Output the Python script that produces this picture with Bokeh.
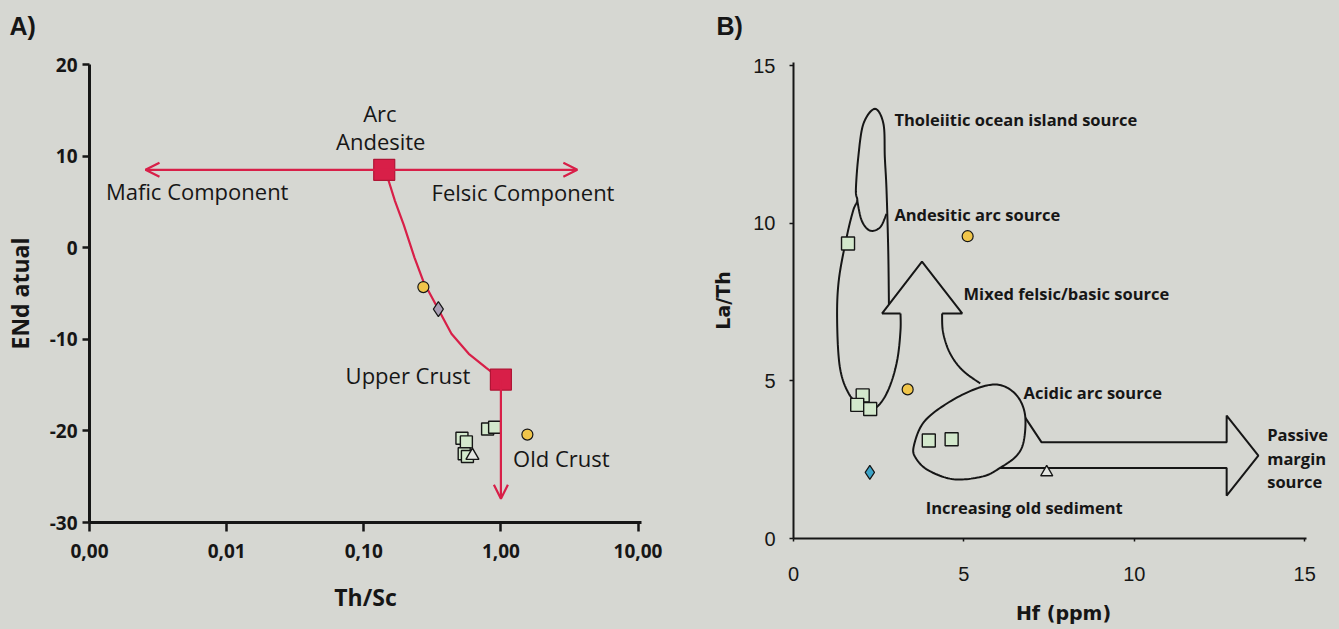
import numpy as np
from bokeh.plotting import figure
from bokeh.models import (ColumnDataSource, LabelSet, Arrow, OpenHead,
                          FixedTicker, Range1d, Title)
from bokeh.embed import file_html
from bokeh.resources import INLINE
from bokeh.core.properties import value

BG = "#d6d7d2"
RED = "#d81f48"
INK = "#161616"

# ---------------- Panel A data ----------------
a_xticks = [0.001, 0.01, 0.1, 1, 10]
a_xtick_labels = ["0,00", "0,01", "0,10", "1,00", "10,00"]
a_yticks = [20, 10, 0, -10, -20, -30]
a_ytick_labels = ["20", "10", "0", "-10", "-20", "-30"]

end_names = ["Arc Andesite", "Upper Crust"]
end_x = [0.141, 1.0]
end_y = [8.5, -14.4]

mix_x = [0.141, 0.152, 0.169, 0.196, 0.234, 0.272, 0.338, 0.436, 0.583, 0.782, 0.97, 1.0]
mix_y = [8.5, 7.28, 5.09, 2.46, -1.05, -3.68, -6.32, -9.39, -11.58, -13.12, -14.2, -14.4]

comp_arrow_x = [0.00256, 3.61]
comp_arrow_y = [8.5, 8.5]
crust_arrow_x = [1.0, 1.0]
crust_arrow_y = [-14.4, -27.4]

a_sq_x = [0.52, 0.56, 0.54, 0.57, 0.80, 0.90]
a_sq_y = [-20.8, -21.2, -22.5, -22.8, -19.8, -19.6]
a_circ_x = [0.272, 1.56]
a_circ_y = [-4.3, -20.4]
a_dia_x = [0.35]
a_dia_y = [-6.7]
a_tri_x = [0.62]
a_tri_y = [-22.7]

a_label_text = ["Arc", "Andesite", "Mafic Component", "Felsic Component", "Upper Crust", "Old Crust"]
a_label_x = [0.131, 0.133, 0.0061, 1.45, 0.21, 2.76]
a_label_y = [14.75, 11.67, 6.2, 6.05, -13.87, -22.99]

# ---------------- Panel B data ----------------
b_ticks = [0, 5, 10, 15]
b_yticks = [0, 5, 10, 15]

b_sq_x = [1.60, 2.03, 1.87, 2.25, 3.97, 4.64]
b_sq_y = [9.36, 4.54, 4.24, 4.11, 3.11, 3.15]
b_circ_x = [3.35, 5.11]
b_circ_y = [4.73, 9.59]
b_dia_x = [2.24]
b_dia_y = [2.10]
b_tri_x = [7.43]
b_tri_y = [2.10]

# tholeiitic / andesitic field outline (open path, ends on the arrow)
loop_x = [2.80, 2.78, 2.73, 2.68, 2.64, 2.39, 2.05, 1.90, 1.83, 1.87, 1.75, 1.56, 1.33,
          1.28, 1.36, 1.62, 2.01, 2.36, 2.65, 2.89, 3.06, 3.14, 3.14]
loop_y = [7.42, 9.13, 11.04, 12.09, 13.15, 13.63, 13.15, 12.09, 11.04, 10.72, 10.40, 9.56, 8.20,
          6.93, 5.44, 4.60, 4.17, 4.12, 4.44, 5.02, 5.76, 6.61, 7.14]
curl_x = [1.87, 2.00, 2.24, 2.54, 2.73]
curl_y = [10.72, 10.09, 9.77, 9.87, 10.30]

up_arrow_x = [3.14, 2.60, 3.77, 4.95, 4.36, 4.38, 4.52, 4.75, 5.05, 5.48]
up_arrow_y = [7.14, 7.14, 8.78, 7.14, 7.14, 6.60, 6.05, 5.60, 5.25, 4.92]

passive_x = [6.79, 7.28, 12.71, 12.71, 13.64, 12.71, 12.71, 6.06]
passive_y = [3.85, 3.05, 3.05, 3.90, 2.63, 1.36, 2.24, 2.24]

acid_x = [3.53, 3.83, 4.57, 5.43, 6.05, 6.54, 6.79, 6.76, 6.55, 6.06, 5.56, 4.70, 3.96, 3.59]
acid_y = [2.93, 3.70, 4.33, 4.78, 4.87, 4.55, 3.95, 3.11, 2.63, 2.24, 1.97, 1.88, 2.16, 2.55]

b_label_text = ["Tholeiitic ocean island source", "Andesitic arc source",
                "Mixed felsic/basic source", "Acidic arc source",
                "Passive", "margin", "source", "Increasing old sediment"]
b_label_x = [2.96, 2.96, 4.99, 6.75, 13.9, 13.9, 13.9, 3.88]
b_label_y = [13.30, 10.29, 7.76, 4.64, 3.31, 2.54, 1.80, 0.99]


def catmull(xs, ys, closed=False, n=14):
    pts = np.column_stack([xs, ys]).astype(float)
    if closed:
        ext = np.vstack([pts[-1], pts, pts[0], pts[1]])
    else:
        ext = np.vstack([pts[0], pts, pts[-1]])
    out = []
    t = np.linspace(0, 1, n, endpoint=False)[:, None]
    for i in range(1, len(ext) - 2):
        p0, p1, p2, p3 = ext[i - 1], ext[i], ext[i + 1], ext[i + 2]
        seg = 0.5 * ((2 * p1) + (-p0 + p2) * t + (2 * p0 - 5 * p1 + 4 * p2 - p3) * t ** 2
                     + (-p0 + 3 * p1 - 3 * p2 + p3) * t ** 3)
        out.append(seg)
    out.append(ext[-2][None, :])
    res = np.vstack(out)
    return res[:, 0], res[:, 1]


def style_common(p, tag, offset, spacer_px):
    p.grid.grid_line_color = None
    p.outline_line_color = None
    p.background_fill_color = BG
    p.border_fill_color = BG
    for ax in (p.xaxis, p.yaxis):
        ax.minor_tick_line_color = None
        ax.axis_line_color = INK
        ax.major_tick_line_color = INK
        ax.major_label_text_color = INK
        ax.axis_label_text_color = INK
        ax.major_tick_in = 0
    # panel tag as the title, lifted by an invisible spacer title next to the frame
    p.title.text = tag
    p.title.align = "left"
    p.title.offset = offset
    p.title.standoff = 0
    p.title.text_font = "Liberation Sans"
    p.title.text_font_style = "bold"
    p.title.text_font_size = "25px"
    p.title.text_color = INK
    p.add_layout(Title(text=" ", standoff=0, text_font_size="%dpx" % spacer_px,
                       text_color=BG), "above")


# ---------------- Figure A ----------------
pa = figure(width=678, height=627, x_axis_type="log",
            x_range=Range1d(0.001, 10.6), y_range=Range1d(-30, 20),
            output_backend="svg", toolbar_location=None,
            min_border_left=89, min_border_right=37, min_border_top=64, min_border_bottom=105)
style_common(pa, "A)", -80, 21)
pa.xaxis.ticker = FixedTicker(ticks=a_xticks)
pa.xaxis.major_label_overrides = {t: l for t, l in zip(a_xticks, a_xtick_labels)}
pa.yaxis.ticker = FixedTicker(ticks=a_yticks)
pa.yaxis.major_label_overrides = {t: l for t, l in zip(a_yticks, a_ytick_labels)}
for ax in (pa.xaxis, pa.yaxis):
    ax.axis_line_width = 3
    ax.major_tick_line_width = 2.5
    ax.major_label_text_font = "Open Sans"
    ax.major_label_text_font_style = "bold"
    ax.major_label_text_font_size = "19px"
    ax.axis_label_text_font = "Open Sans"
    ax.axis_label_text_font_style = "bold"
    ax.axis_label_text_font_size = "23px"
pa.xaxis.major_tick_out = 9
pa.yaxis.major_tick_out = 7
pa.xaxis.major_label_standoff = 12
pa.yaxis.major_label_standoff = 5
pa.xaxis.axis_label = "Th/Sc"
pa.yaxis.axis_label = "ENd atual"
pa.xaxis.axis_label_standoff = 20
pa.yaxis.axis_label_standoff = 11

pa.line(mix_x, mix_y, line_color=RED, line_width=2.2)
pa.add_layout(Arrow(start=OpenHead(size=14, line_color=RED, line_width=2.2),
                    end=OpenHead(size=14, line_color=RED, line_width=2.2),
                    x_start=comp_arrow_x[0], y_start=comp_arrow_y[0],
                    x_end=comp_arrow_x[1], y_end=comp_arrow_y[1],
                    line_color=RED, line_width=2.2))
pa.add_layout(Arrow(end=OpenHead(size=14, line_color=RED, line_width=2.2),
                    x_start=crust_arrow_x[0], y_start=crust_arrow_y[0],
                    x_end=crust_arrow_x[1], y_end=crust_arrow_y[1],
                    line_color=RED, line_width=2.2))
pa.scatter(end_x, end_y, marker="square", size=21, fill_color=RED, line_color="#b01535", line_width=1.2)
pa.scatter(a_sq_x, a_sq_y, marker="square", size=12, fill_color="#d3e8cc", line_color=INK, line_width=1.4)
pa.scatter(a_tri_x, a_tri_y, marker="triangle", size=13, fill_color="#e4e6e2", line_color=INK, line_width=1.4)
pa.scatter(a_circ_x, a_circ_y, marker="circle", size=11, fill_color="#f0c54a", line_color=INK, line_width=1.2)
pa.scatter(a_dia_x, a_dia_y, marker="diamond", size=15, fill_color="#a99fb4", line_color=INK, line_width=1.2)

srcA = ColumnDataSource(dict(x=a_label_x, y=a_label_y, text=a_label_text))
pa.add_layout(LabelSet(x="x", y="y", text="text", source=srcA,
                       text_font=value("Open Sans"), text_font_size="22px",
                       text_color=INK, text_align="center", text_baseline="middle"))

# ---------------- Figure B ----------------
pb = figure(width=657, height=627, x_range=Range1d(0, 15.845), y_range=Range1d(0, 15.1),
            output_backend="svg", toolbar_location=None,
            min_border_left=115, min_border_right=2, min_border_top=62, min_border_bottom=89)
style_common(pb, "B)", -77, 19)
pb.xaxis.ticker = FixedTicker(ticks=b_ticks)
pb.yaxis.ticker = FixedTicker(ticks=b_yticks)
pb.xaxis.bounds = (0, 15.05)
for ax in (pb.xaxis, pb.yaxis):
    ax.axis_line_width = 2
    ax.major_tick_line_width = 1.5
    ax.major_label_text_font = "Liberation Sans"
    ax.major_label_text_font_size = "20px"
    ax.axis_label_text_font = "DejaVu Sans"
    ax.axis_label_text_font_style = "bold"
    ax.axis_label_text_font_size = "19px"
pb.xaxis.major_tick_out = 3
pb.yaxis.major_tick_out = 4
pb.xaxis.major_label_standoff = 25
pb.yaxis.major_label_standoff = 14
pb.xaxis.axis_label = "Hf (ppm)"
pb.yaxis.axis_label = "La/Th"
pb.xaxis.axis_label_standoff = 18
pb.yaxis.axis_label_standoff = 16

lx, ly = catmull(loop_x, loop_y)
pb.line(lx, ly, line_color=INK, line_width=2)
cx, cy = catmull(curl_x, curl_y)
pb.line(cx, cy, line_color=INK, line_width=2)
ux, uy = catmull(up_arrow_x[4:], up_arrow_y[4:])
pb.line(up_arrow_x[:5], up_arrow_y[:5], line_color=INK, line_width=2)
pb.line(ux, uy, line_color=INK, line_width=2)
pb.patch(passive_x, passive_y, fill_color=BG, line_color=INK, line_width=2)
ax_, ay_ = catmull(acid_x, acid_y, closed=True)
pb.patch(ax_, ay_, fill_color=BG, line_color=INK, line_width=2)

pb.scatter(b_sq_x, b_sq_y, marker="square", size=13, fill_color="#d3e8cc", line_color=INK, line_width=1.4)
pb.scatter(b_tri_x, b_tri_y, marker="triangle", size=12, fill_color="#e4e6e2", line_color=INK, line_width=1.4)
pb.scatter(b_circ_x, b_circ_y, marker="circle", size=11, fill_color="#f0c54a", line_color=INK, line_width=1.2)
pb.scatter(b_dia_x, b_dia_y, marker="diamond", size=14, fill_color="#3da4c8", line_color=INK, line_width=1.2)

srcB = ColumnDataSource(dict(x=b_label_x, y=b_label_y, text=b_label_text))
pb.add_layout(LabelSet(x="x", y="y", text="text", source=srcB,
                       text_font=value("Open Sans"), text_font_style="bold",
                       text_font_size="16.5px", text_color=INK,
                       text_align="left", text_baseline="middle"))

# two independent roots placed side by side (no frame alignment between them)
html = file_html([pa, pb], INLINE)
css = ("<style>html, body { background-color: %s; margin: 0 !important; padding: 0 !important; }"
       " body { display: flex !important; flex-direction: row; align-items: flex-start; }</style>" % BG)
html = html.replace("</head>", css + "</head>", 1)
open("out.html", "w").write(html)
